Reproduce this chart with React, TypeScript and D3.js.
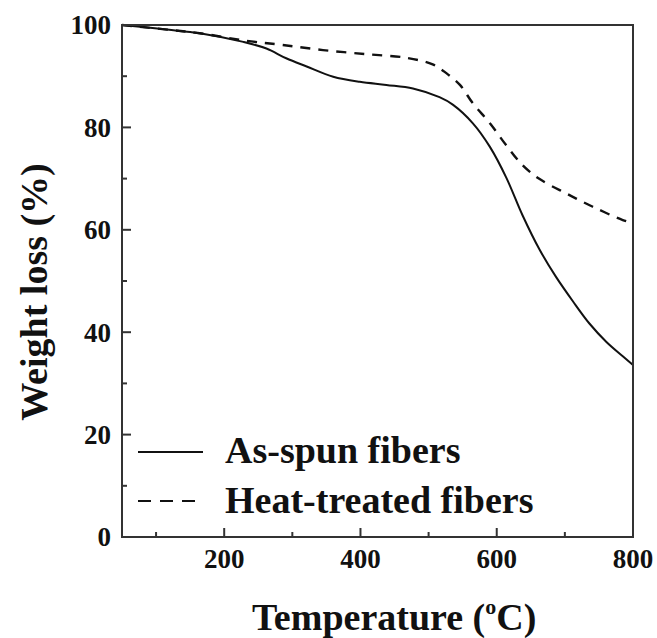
import React from "react";
import * as d3 from "d3";

const asSpunT = [50, 116, 164, 228, 262, 291, 321, 360, 399, 438, 477, 516, 536, 565, 590, 614, 638, 663, 687, 712, 736, 761, 785, 800];
const asSpunW = [100, 99.1, 98.4, 96.7, 95.4, 93.5, 91.9, 89.9, 88.9, 88.3, 87.6, 85.9, 84.4, 80.8, 76.2, 70.2, 62.8, 56.1, 50.8, 46.0, 41.7, 38.1, 35.3, 33.6];
const heatT = [50, 116, 164, 233, 286, 345, 409, 467, 506, 526, 546, 565, 590, 614, 638, 663, 702, 741, 785, 800];
const heatW = [100, 99.1, 98.4, 96.9, 96.1, 95.1, 94.3, 93.6, 92.3, 90.6, 88.3, 84.7, 80.8, 76.5, 72.6, 69.9, 67.1, 64.5, 61.9, 61.3];
const xMajor = [200, 400, 600, 800];
const xMinor = [100, 300, 500, 700];
const yMajor = [0, 20, 40, 60, 80, 100];
const yMinor = [10, 30, 50, 70, 90];
const legendLabels = ["As-spun fibers", "Heat-treated fibers"];

const FONT = "'Liberation Serif', 'Times New Roman', Times, serif";

export default function App() {
  const left = 122, right = 633, top = 25, bottom = 537;
  const x = d3.scaleLinear().domain([50, 800]).range([left, right]);
  const y = d3.scaleLinear().domain([0, 100]).range([bottom, top]);
  const line = d3
    .line<[number, number]>()
    .x((d) => x(d[0]))
    .y((d) => y(d[1]))
    .curve(d3.curveCatmullRom.alpha(0.5));
  const asSpun = asSpunT.map((t, i) => [t, asSpunW[i]] as [number, number]);
  const heat = heatT.map((t, i) => [t, heatW[i]] as [number, number]);
  const col = "#111";
  return (
    <svg width={657} height={638} style={{ position: "absolute", left: 0, top: 0, background: "#fff", fontFamily: FONT, fontWeight: "bold" }}>
      <rect x={0} y={0} width={657} height={638} fill="#fff" />
      <path d={line(heat) || ""} fill="none" stroke={col} strokeWidth={2.4} strokeDasharray="10,8" />
      <path d={line(asSpun) || ""} fill="none" stroke={col} strokeWidth={2} />
      <rect x={left} y={top} width={right - left} height={bottom - top} fill="none" stroke="#333" strokeWidth={2} />
      {yMajor.map((v) => (
        <g key={"ym" + v}>
          <line x1={left} x2={left + 9} y1={y(v)} y2={y(v)} stroke="#333" strokeWidth={2} />
          <text x={111} y={y(v)} dy="0.35em" textAnchor="end" fontSize={27} fill={col}>{v}</text>
        </g>
      ))}
      {yMinor.map((v) => (
        <line key={"yn" + v} x1={left} x2={left + 5} y1={y(v)} y2={y(v)} stroke="#333" strokeWidth={2} />
      ))}
      {xMajor.map((v) => (
        <g key={"xm" + v}>
          <line x1={x(v)} x2={x(v)} y1={bottom} y2={bottom - 9} stroke="#333" strokeWidth={2} />
          <text x={x(v)} y={568} textAnchor="middle" fontSize={27} fill={col}>{v}</text>
        </g>
      ))}
      {xMinor.map((v) => (
        <line key={"xn" + v} x1={x(v)} x2={x(v)} y1={bottom} y2={bottom - 5} stroke="#333" strokeWidth={2} />
      ))}
      <line x1={138} x2={203} y1={452} y2={452} stroke={col} strokeWidth={2} />
      <text x={225} y={463} fontSize={38} fill={col}>{legendLabels[0]}</text>
      <line x1={138} x2={195} y1={501} y2={501} stroke={col} strokeWidth={2} strokeDasharray="13,9" />
      <text x={225} y={513} fontSize={38} fill={col}>{legendLabels[1]}</text>
      <text x={252} y={630} fontSize={38} fill={col}>
        Temperature (<tspan fontSize={22} dy={-16}>o</tspan><tspan dy={16}>C)</tspan>
      </text>
      <text transform="translate(47,292) rotate(-90)" textAnchor="middle" fontSize={38} fill={col}>Weight loss (%)</text>
    </svg>
  );
}
